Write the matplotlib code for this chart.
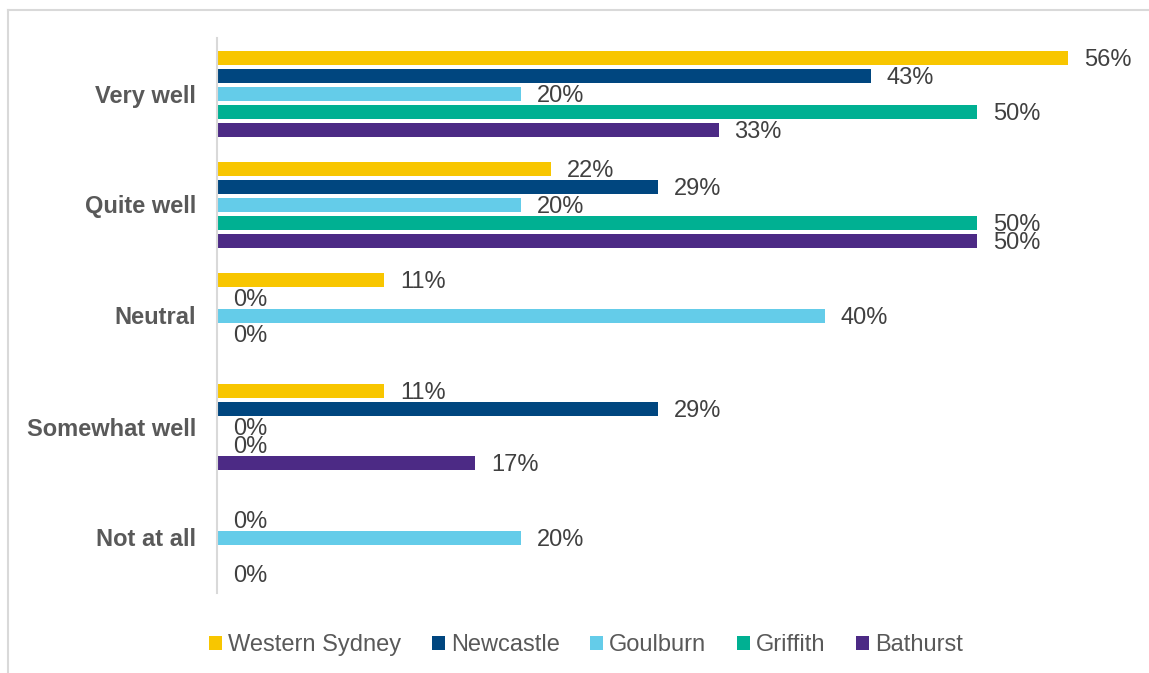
import matplotlib.pyplot as plt
import numpy as np
from matplotlib.patches import Patch
from matplotlib.lines import Line2D

plt.rcParams['font.family'] = ['Liberation Sans', 'DejaVu Sans']

categories = ['Very well', 'Quite well', 'Neutral', 'Somewhat well', 'Not at all']
series = ['Western Sydney', 'Newcastle', 'Goulburn', 'Griffith', 'Bathurst']
colors = ['#F8C600', '#00467F', '#64CCE9', '#00B092', '#4C2A85']

western_sydney = [56, 22, 11, 11, np.nan]
newcastle = [43, 29, 0, 29, 0]
goulburn = [20, 20, 40, 0, 20]
griffith = [50, 50, 0, 0, np.nan]
bathurst = [33, 50, np.nan, 17, 0]
values = [western_sydney, newcastle, goulburn, griffith, bathurst]

fig = plt.figure(figsize=(11.49, 6.73), dpi=100)
ax = fig.add_axes([217 / 1149, 1 - 593 / 673, 912 / 1149, 555 / 673])

y = np.arange(len(categories))
step = 18 / 111
height = 14 / 111

for j, (name, vals, col) in enumerate(zip(series, values, colors)):
    pos = y + (j - 2) * step
    vals = np.array(vals, dtype=float)
    ax.barh(pos, vals, height=height, color=col, label=name)
    for p, v in zip(pos, vals):
        if np.isnan(v):
            continue
        ax.annotate(f'{v:.0f}%', (v, p), xytext=(11.5, -1.8), textcoords='offset points',
                    va='center', ha='left', fontsize=17, color='#404040')

ax.set_xlim(0, 60)
ax.set_ylim(len(categories) - 0.5, -0.5)
ax.set_yticks(y)
ax.set_yticklabels(categories, fontsize=17, fontweight='bold', color='#595959')
ax.tick_params(axis='y', length=0, pad=15)
ax.set_xticks([])
for s in ['top', 'right', 'bottom']:
    ax.spines[s].set_visible(False)
ax.spines['left'].set_color('#D9D9D9')
ax.spines['left'].set_linewidth(1.5)

# outer chart border (left and top edges)
fig.add_artist(Line2D([7.5 / 1149, 7.5 / 1149], [0, 1 - 10 / 673],
                      transform=fig.transFigure, color='#D9D9D9', lw=1.5))
fig.add_artist(Line2D([7.5 / 1149, 1], [1 - 10 / 673, 1 - 10 / 673],
                      transform=fig.transFigure, color='#D9D9D9', lw=1.5))

handles = [Patch(facecolor=c, label=n) for n, c in zip(series, colors)]
leg = fig.legend(handles=handles, loc='center', bbox_to_anchor=(586 / 1149, 1 - 645 / 673),
                 ncol=5, frameon=False, fontsize=17, handlelength=0.55, handleheight=0.55,
                 handletextpad=0.25, columnspacing=1.3, borderaxespad=0)
for t in leg.get_texts():
    t.set_color('#595959')

fig.savefig('out.png', dpi=100)
